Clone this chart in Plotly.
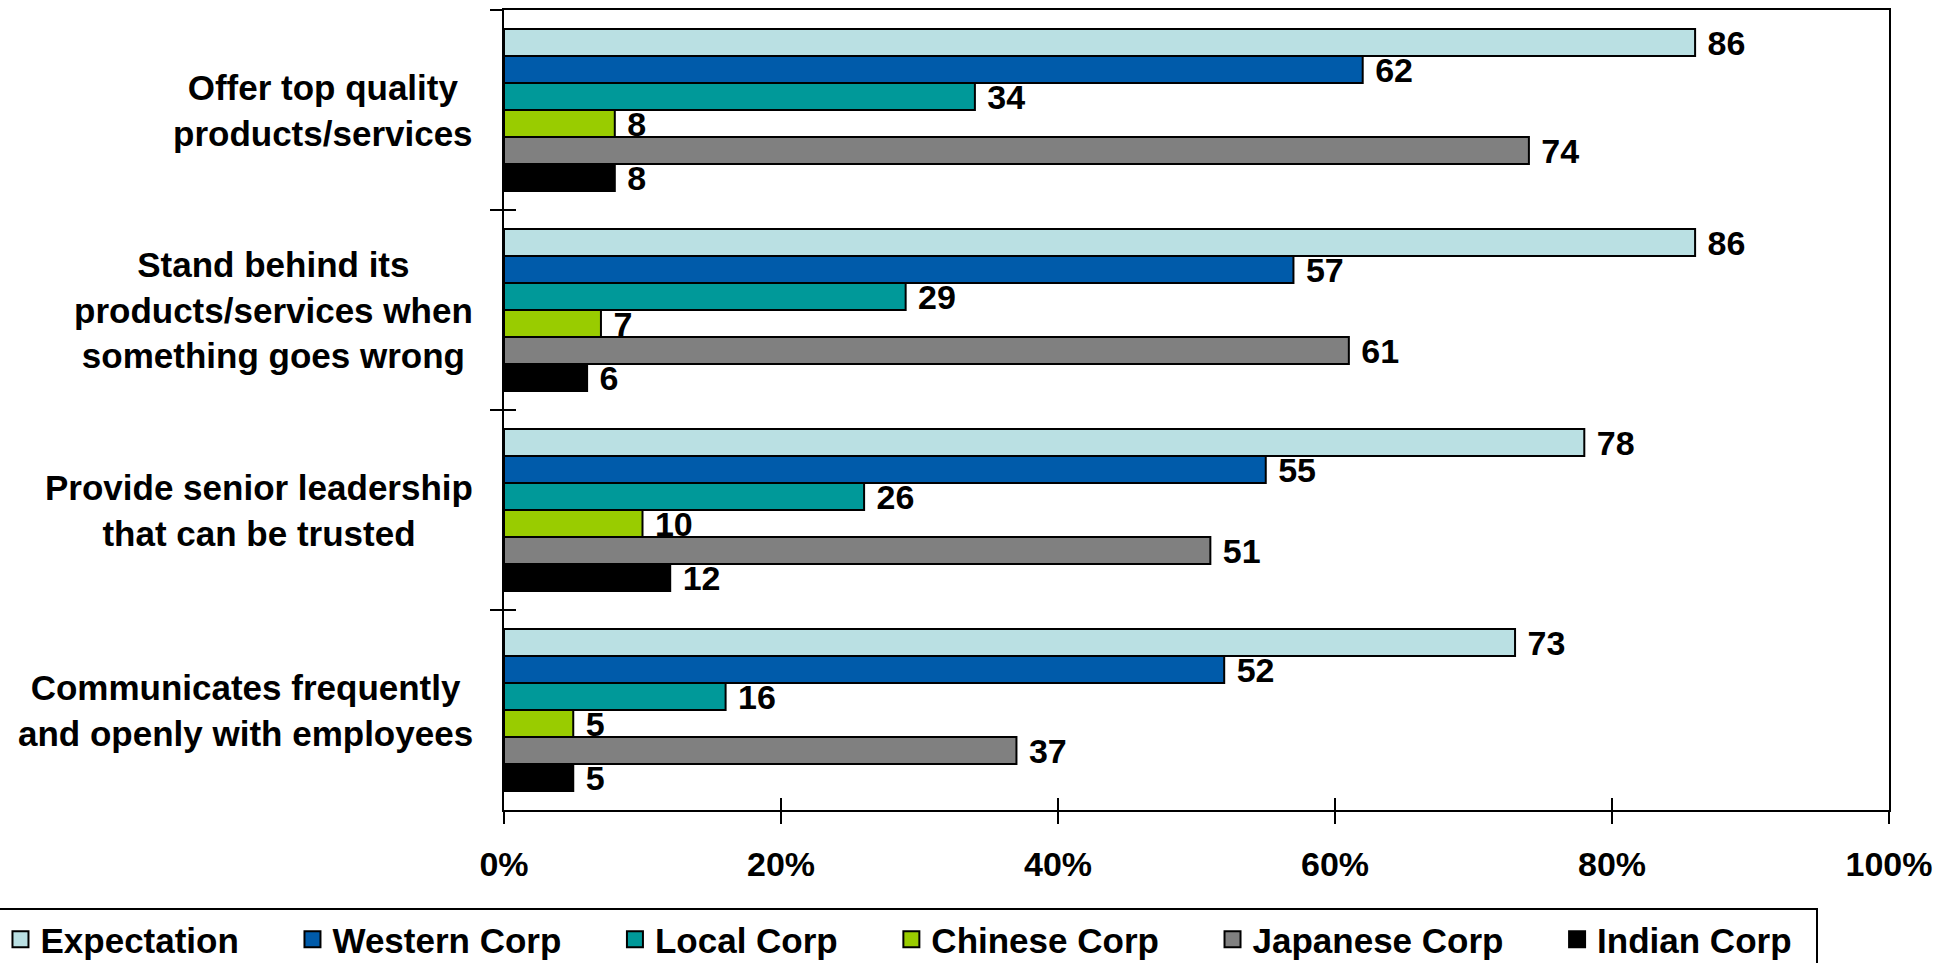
import plotly.graph_objects as go

# Survey statements, listed top to bottom
categories = [
    "Offer top quality<br>products/services",
    "Stand behind its<br>products/services when<br>something goes wrong",
    "Provide senior leadership<br>that can be trusted",
    "Communicates frequently<br>and openly with employees",
]

series_names = ["Expectation", "Western Corp", "Local Corp", "Chinese Corp", "Japanese Corp", "Indian Corp"]

expectation = [86, 86, 78, 73]
western_corp = [62, 57, 55, 52]
local_corp = [34, 29, 26, 16]
chinese_corp = [8, 7, 10, 5]
japanese_corp = [74, 61, 51, 37]
indian_corp = [8, 6, 12, 5]

series_values = [expectation, western_corp, local_corp, chinese_corp, japanese_corp, indian_corp]
series_colors = ["#BAE0E3", "#005BAA", "#009999", "#99CC00", "#808080", "#000000"]

x_ticks = [0, 20, 40, 60, 80, 100]
x_tick_labels = ["0%", "20%", "40%", "60%", "80%", "100%"]

FONT = "Liberation Sans, Arial, sans-serif"

fig = go.Figure()

for name, vals, col in zip(series_names, series_values, series_colors):
    fig.add_trace(go.Bar(
        y=categories,
        x=vals,
        text=vals,
        orientation="h",
        name=name,
        marker=dict(color=col, line=dict(color="#000000", width=2)),
        texttemplate="\u00a0%{text}",
        textposition="outside",
        constraintext="none",
        cliponaxis=False,
        textfont=dict(family=FONT, size=34, color="#000000", weight="bold"),
        showlegend=False,
        hoverinfo="skip",
    ))

# legend entries with larger square swatches; trailing spaces set the gap between entries
legend_pad = [5, 5, 5, 5, 5, 2]
for name, col, pad in zip(series_names, series_colors, legend_pad):
    fig.add_trace(go.Scatter(
        x=[None], y=[None],
        mode="markers",
        name=name + "\u00a0" * pad,
        marker=dict(symbol="square", size=16, color=col, line=dict(color="#000000", width=2)),
        showlegend=True,
    ))

# centred multi-line category labels to the left of the axis
for cat in categories:
    fig.add_annotation(
        text=cat,
        xref="paper", yref="y",
        x=-0.021, y=cat,
        xanchor="right", yanchor="middle",
        align="center",
        showarrow=False,
        font=dict(family=FONT, size=35, color="#000000", weight="bold"),
    )

fig.update_layout(
    width=1952,
    height=963,
    margin=dict(l=504, r=63, t=10, b=153, autoexpand=False),
    paper_bgcolor="#FFFFFF",
    plot_bgcolor="#FFFFFF",
    barmode="group",
    bargap=0.19,
    bargroupgap=0,
    font=dict(family=FONT, color="#000000"),
    xaxis=dict(
        range=[0, 100],
        tickmode="array",
        tickvals=x_ticks,
        ticktext=x_tick_labels,
        ticks="outside",
        ticklen=12,
        tickwidth=1.5,
        tickcolor="#000000",
        ticklabelstandoff=11,
        tickfont=dict(family=FONT, size=34, color="#000000", weight="bold"),
        showgrid=False,
        zeroline=False,
        showline=True,
        linecolor="#000000",
        linewidth=2,
        mirror=True,
    ),
    xaxis2=dict(
        overlaying="x",
        anchor="y",
        side="bottom",
        range=[0, 100],
        tickvals=x_ticks,
        ticks="inside",
        ticklen=12,
        tickwidth=1.5,
        tickcolor="#000000",
        showticklabels=False,
        showgrid=False,
        zeroline=False,
        showline=False,
    ),
    yaxis=dict(
        categoryorder="array",
        categoryarray=categories,
        range=[3.5, -0.5],
        tickson="boundaries",
        ticks="outside",
        ticklen=12,
        tickwidth=1.5,
        tickcolor="#000000",
        showticklabels=False,
        showgrid=False,
        zeroline=False,
        showline=True,
        linecolor="#000000",
        linewidth=2,
        mirror=True,
    ),
    yaxis2=dict(
        overlaying="y",
        anchor="x",
        side="left",
        range=[3.5, -0.5],
        tickvals=[-0.5, 0.5, 1.5, 2.5, 3.5],
        ticks="inside",
        ticklen=12,
        tickwidth=1.5,
        tickcolor="#000000",
        showticklabels=False,
        showgrid=False,
        zeroline=False,
        showline=False,
    ),
    legend=dict(
        orientation="h",
        x=-0.365,
        y=-0.1225,
        xanchor="left",
        yanchor="top",
        bgcolor="#FFFFFF",
        bordercolor="#000000",
        borderwidth=2,
        font=dict(family=FONT, size=35, color="#000000", weight="bold"),
        traceorder="normal",
    ),
)

# keep the overlay axes drawn even without traces
fig.add_trace(go.Scatter(x=[None], y=[None], xaxis="x2", yaxis="y2", showlegend=False, hoverinfo="skip"))

fig.write_html("out.html")
